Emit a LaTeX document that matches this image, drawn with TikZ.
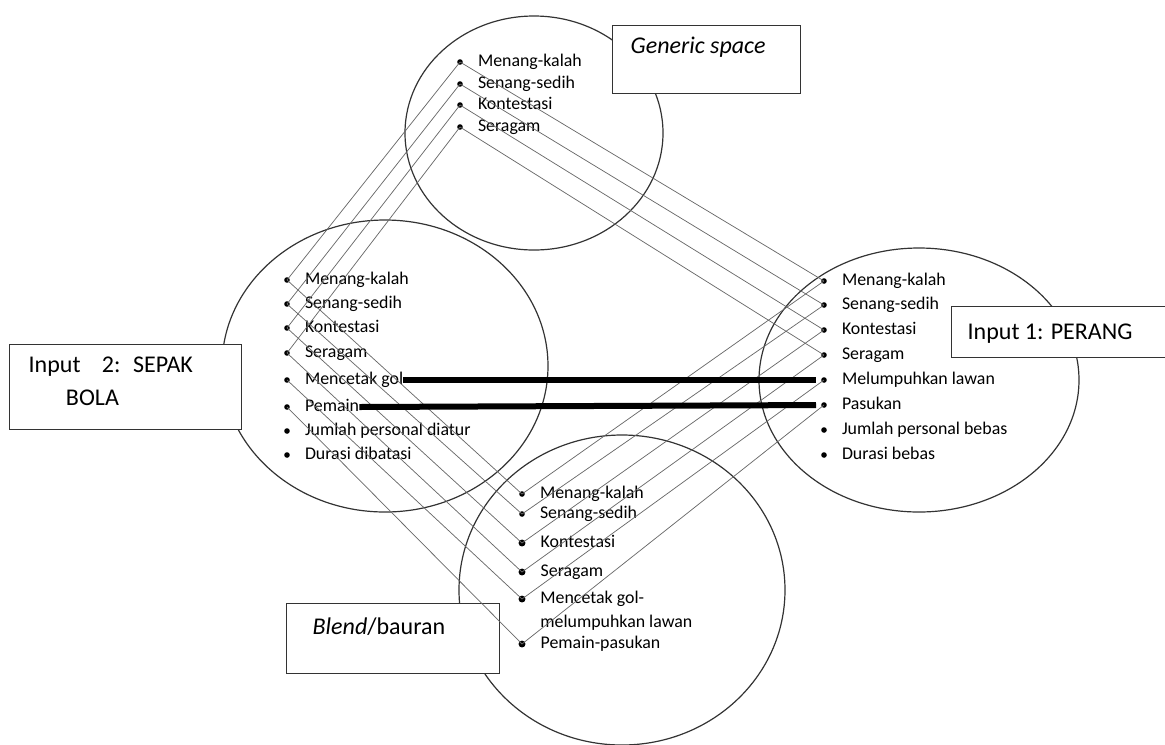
\documentclass[tikz,border=0pt]{standalone}
\usepackage{fontspec}
\setmainfont{Carlito}
\usepackage{tikz}
\usetikzlibrary{
  positioning,
  calc
}
\definecolor{LinkGray}{RGB}{105,105,105}
\newcommand{\itemfont}{\fontsize{13.4pt}{18pt}\selectfont}
\newcommand{\boxfont}{\fontsize{18pt}{24.75pt}\selectfont}
\tikzset{
  dotnode/.style={circle,fill=black,inner sep=0pt,minimum size=4.2pt},
  bigdotnode/.style={circle,fill=black,inner sep=0pt,minimum size=5.2pt},
  itemnode/.style={inner sep=0pt,font=\itemfont,text height=9pt,text depth=3pt,anchor=west},
  spacering/.style={draw=black!80,line width=0.9pt},
  labelbox/.style={draw=black!80,line width=1pt,fill=white,inner ysep=0pt,align=flush left,font=\boxfont},
  linkline/.style={draw=LinkGray,line width=0.55pt},
  matchline/.style={draw=black,line width=4.5pt,shorten >=6pt}
}

\begin{document}
\begin{tikzpicture}[x=0.75pt,y=-0.75pt]
\useasboundingbox (0,0) rectangle (1165,744);
% the four spaces
\draw[spacering] (534,133) ellipse [x radius=129, y radius=117];
\draw[spacering] (385,366) ellipse [x radius=163, y radius=146];
\draw[spacering] (919,380) ellipse [x radius=160, y radius=132];
\draw[spacering] (622,590) ellipse [x radius=163, y radius=155];
% labels
\node[labelbox,anchor=north west,inner xsep=13.5pt,text width=114pt,text height=21pt,text depth=30pt] (genbox) at (612,25) {\textit{Generic space}};
\node[labelbox,anchor=north west,inner xsep=12pt,text width=140pt,text height=24.75pt,text depth=13.5pt] (perangbox) at (951,306) {Input 1: PERANG};
\node[labelbox,anchor=north west,inner xsep=14.25pt,text width=145.5pt,text height=21pt,text depth=42.75pt] (sepakbox) at (9,344) {Input\hspace{12pt} 2:\hspace{4pt} SEPAK\\\hspace{28pt}BOLA};
\node[labelbox,anchor=north west,inner xsep=19.5pt,text width=120.75pt,text height=23.25pt,text depth=29.25pt] (blendbox) at (286,603) {\textit{Blend}/bauran};

% generic space
\node[dotnode] (gd1) at (460,62) {};
\node[dotnode] (gd2) at (460,84) {};
\node[dotnode] (gd3) at (460,105) {};
\node[dotnode] (gd4) at (460,127) {};
\node[itemnode,right=11pt of gd1] (g1) {Menang-kalah};
\node[itemnode,right=11pt of gd2] (g2) {Senang-sedih};
\node[itemnode,right=11pt of gd3] (g3) {Kontestasi};
\node[itemnode,right=11pt of gd4] (g4) {Seragam};

% input 2
\node[dotnode] (ld1) at (287,280) {};
\node[dotnode] (ld2) at (287,304) {};
\node[dotnode] (ld3) at (287,328) {};
\node[dotnode] (ld4) at (287,353) {};
\node[dotnode] (ld5) at (287,380) {};
\node[dotnode] (ld6) at (287,407) {};
\node[dotnode] (ld7) at (287,431) {};
\node[dotnode] (ld8) at (287,455) {};
\node[itemnode,right=11pt of ld1] (l1) {Menang-kalah};
\node[itemnode,right=11pt of ld2] (l2) {Senang-sedih};
\node[itemnode,right=11pt of ld3] (l3) {Kontestasi};
\node[itemnode,right=11pt of ld4] (l4) {Seragam};
\node[itemnode,right=11pt of ld5] (l5) {Mencetak gol};
\node[itemnode,right=11pt of ld6] (l6) {Pemain};
\node[itemnode,right=11pt of ld7] (l7) {Jumlah personal diatur};
\node[itemnode,right=11pt of ld8] (l8) {Durasi dibatasi};

% input 1
\node[dotnode] (rd1) at (824,281) {};
\node[dotnode] (rd2) at (824,305) {};
\node[dotnode] (rd3) at (824,330) {};
\node[dotnode] (rd4) at (824,355) {};
\node[dotnode] (rd5) at (824,380) {};
\node[dotnode] (rd6) at (824,405) {};
\node[dotnode] (rd7) at (824,430) {};
\node[dotnode] (rd8) at (824,455) {};
\node[itemnode,right=11pt of rd1] (r1) {Menang-kalah};
\node[itemnode,right=11pt of rd2] (r2) {Senang-sedih};
\node[itemnode,right=11pt of rd3] (r3) {Kontestasi};
\node[itemnode,right=11pt of rd4] (r4) {Seragam};
\node[itemnode,right=11pt of rd5] (r5) {Melumpuhkan lawan};
\node[itemnode,right=11pt of rd6] (r6) {Pasukan};
\node[itemnode,right=11pt of rd7] (r7) {Jumlah personal bebas};
\node[itemnode,right=11pt of rd8] (r8) {Durasi bebas};

% blend
\node[dotnode] (bd1) at (522,494) {};
\node[dotnode] (bd2) at (522,514) {};
\node[bigdotnode] (bd3) at (522,543) {};
\node[bigdotnode] (bd4) at (522,572) {};
\node[bigdotnode] (bd5) at (522,599) {};
\node[bigdotnode] (bd6) at (522,644) {};
\node[itemnode,right=11pt of bd1] (b1) {Menang-kalah};
\node[itemnode,right=11pt of bd2] (b2) {Senang-sedih};
\node[itemnode,right=11pt of bd3] (b3) {Kontestasi};
\node[itemnode,right=11pt of bd4] (b4) {Seragam};
\node[itemnode,align=left,anchor=west] (b5) at ([xshift=13.6pt,yshift=-18pt]bd5.center) {Mencetak gol-\\melumpuhkan lawan};
\node[itemnode,right=11pt of bd6] (b6) {Pemain-pasukan};

% mappings
\draw[linkline] (gd1.center) -- (ld1.center);
\draw[linkline] (gd2.center) -- (ld2.center);
\draw[linkline] (gd3.center) -- (ld3.center);
\draw[linkline] (gd4.center) -- (ld4.center);
\draw[linkline] (gd1.center) -- (rd1.center);
\draw[linkline] (gd2.center) -- (rd2.center);
\draw[linkline] (gd3.center) -- (rd3.center);
\draw[linkline] (gd4.center) -- (rd4.center);
\draw[linkline] (ld1.center) -- (bd1.center);
\draw[linkline] (ld2.center) -- (bd2.center);
\draw[linkline] (ld3.center) -- (bd3.center);
\draw[linkline] (ld4.center) -- (bd4.center);
\draw[linkline] (ld5.center) -- (bd5.center);
\draw[linkline] (ld6.center) -- (bd6.center);
\draw[linkline] (rd1.center) -- (bd1.center);
\draw[linkline] (rd2.center) -- (bd2.center);
\draw[linkline] (rd3.center) -- (bd3.center);
\draw[linkline] (rd4.center) -- (bd4.center);
\draw[linkline] (rd5.center) -- (bd5.center);
\draw[linkline] (rd6.center) -- (bd6.center);
% cross-space counterparts
\draw[matchline] (l5.east) -- (rd5.center);
\draw[matchline] (l6.east) -- (rd6.center);
\end{tikzpicture}
\end{document}
